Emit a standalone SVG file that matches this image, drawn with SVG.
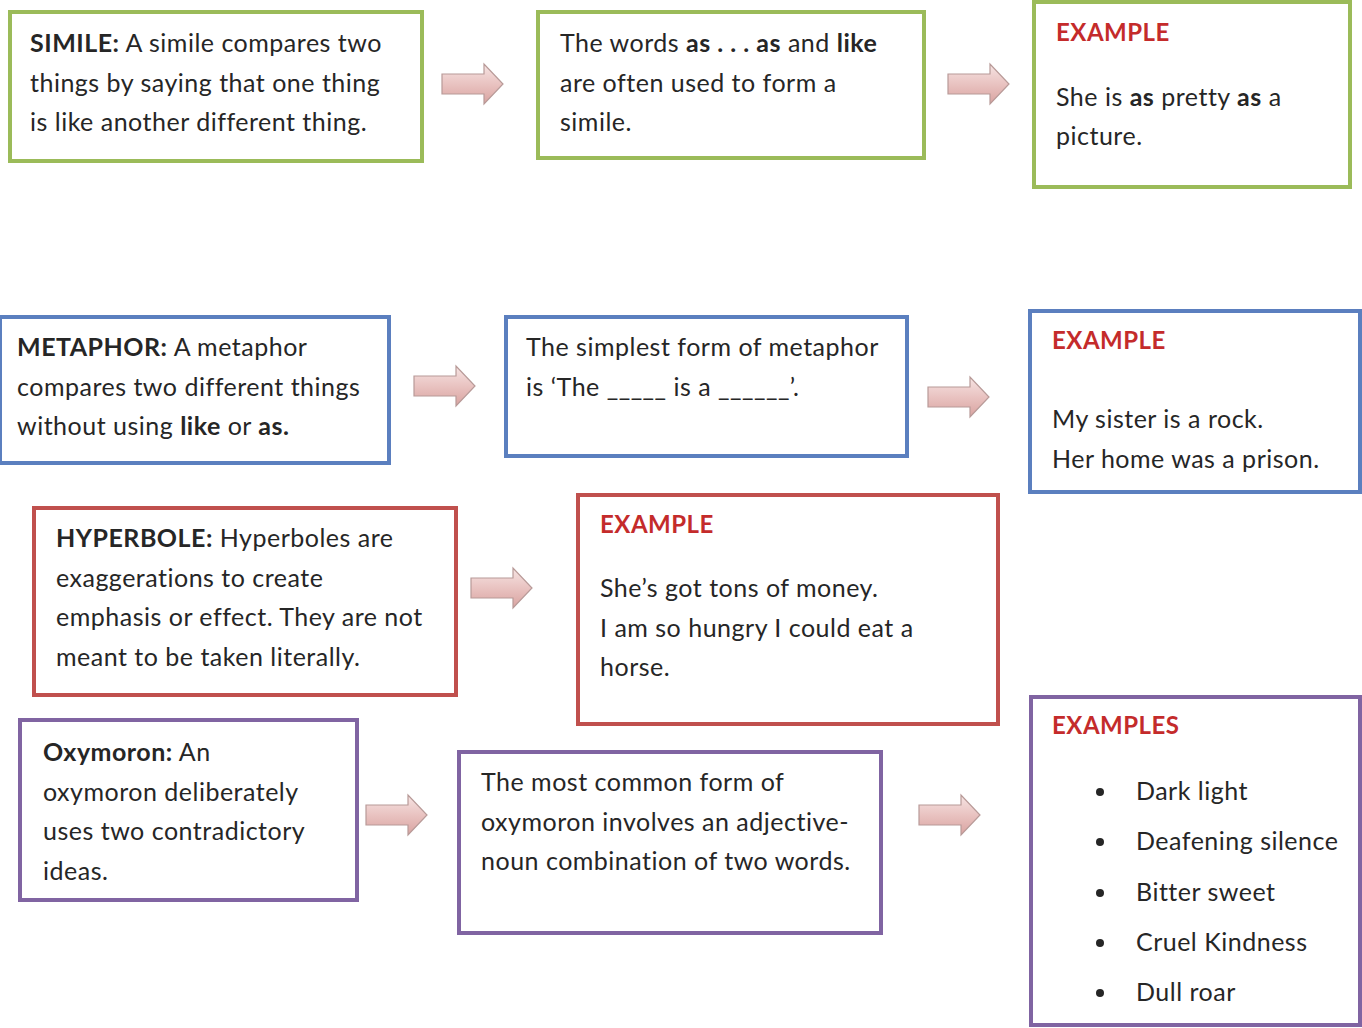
<svg xmlns="http://www.w3.org/2000/svg" width="1362" height="1028" viewBox="0 0 1362 1028">
  <defs>
    <linearGradient id="arrowFill" x1="0" y1="0" x2="0" y2="1">
      <stop offset="0" stop-color="#f6e4e3"/>
      <stop offset="0.5" stop-color="#e9c3c1"/>
      <stop offset="1" stop-color="#d9a3a0"/>
    </linearGradient>
    <!-- block arrow, origin at the left end of the shaft, centred vertically -->
    <path id="blockArrow" d="M0,-10 H42 V-20 L61,0 L42,20 V10 H0 Z"/>
  </defs>
  <style>
    .box { fill: #ffffff; stroke-width: 4; }
    .green { stroke: #9bbb59; }
    .blue { stroke: #5b7fbf; }
    .red { stroke: #c0504d; }
    .purple { stroke: #8064a2; }
    text { font-family: Lato, "Liberation Sans", sans-serif; font-size: 25px; letter-spacing: 0.5px; fill: #262626; }
    .b { font-weight: bold; }
    .ex { fill: #c42b2b; font-weight: bold; font-size: 24px; }
    .arrow { fill: url(#arrowFill); stroke: #b89a98; stroke-width: 1.2; }
  </style>
  <rect width="1362" height="1028" fill="#ffffff"/>

  <!-- Simile row -->
  <g id="simile">
    <rect class="box green" x="10" y="12" width="412" height="149"/>
    <text x="30" y="52"><tspan class="b">SIMILE:</tspan> A simile compares two</text>
    <text x="30" y="92">things by saying that one thing</text>
    <text x="30" y="131">is like another different thing.</text>
  </g>
  <g id="simile-form">
    <rect class="box green" x="538" y="12" width="386" height="146"/>
    <text x="560" y="52">The words <tspan class="b">as . . . as</tspan> and <tspan class="b">like</tspan></text>
    <text x="560" y="92">are often used to form a</text>
    <text x="560" y="131">simile.</text>
  </g>
  <g id="simile-example">
    <rect class="box green" x="1034" y="2" width="316" height="185"/>
    <text class="ex" x="1056" y="41">EXAMPLE</text>
    <text x="1056" y="106">She is <tspan class="b">as</tspan> pretty <tspan class="b">as</tspan> a</text>
    <text x="1056" y="145">picture.</text>
  </g>

  <!-- Metaphor row -->
  <g id="metaphor">
    <rect class="box blue" x="0" y="317" width="389" height="146"/>
    <text x="17" y="356"><tspan class="b">METAPHOR:</tspan> A metaphor</text>
    <text x="17" y="396">compares two different things</text>
    <text x="17" y="435">without using <tspan class="b">like</tspan> or <tspan class="b">as.</tspan></text>
  </g>
  <g id="metaphor-form">
    <rect class="box blue" x="506" y="317" width="401" height="139"/>
    <text x="526" y="356">The simplest form of metaphor</text>
    <text x="526" y="396">is ‘The _____ is a ______’.</text>
  </g>
  <g id="metaphor-example">
    <rect class="box blue" x="1030" y="311" width="330" height="181"/>
    <text class="ex" x="1052" y="349">EXAMPLE</text>
    <text x="1052" y="428">My sister is a rock.</text>
    <text x="1052" y="468">Her home was a prison.</text>
  </g>

  <!-- Hyperbole row -->
  <g id="hyperbole">
    <rect class="box red" x="34" y="508" width="422" height="187"/>
    <text x="56" y="547"><tspan class="b">HYPERBOLE:</tspan> Hyperboles are</text>
    <text x="56" y="587">exaggerations to create</text>
    <text x="56" y="626">emphasis or effect. They are not</text>
    <text x="56" y="666">meant to be taken literally.</text>
  </g>
  <g id="hyperbole-example">
    <rect class="box red" x="578" y="495" width="420" height="229"/>
    <text class="ex" x="600" y="533">EXAMPLE</text>
    <text x="600" y="597">She’s got tons of money.</text>
    <text x="600" y="637">I am so hungry I could eat a</text>
    <text x="600" y="676">horse.</text>
  </g>

  <!-- Oxymoron row -->
  <g id="oxymoron">
    <rect class="box purple" x="20" y="720" width="337" height="180"/>
    <text x="43" y="761"><tspan class="b">Oxymoron:</tspan> An</text>
    <text x="43" y="801">oxymoron deliberately</text>
    <text x="43" y="840">uses two contradictory</text>
    <text x="43" y="880">ideas.</text>
  </g>
  <g id="oxymoron-form">
    <rect class="box purple" x="459" y="752" width="422" height="181"/>
    <text x="481" y="791">The most common form of</text>
    <text x="481" y="831">oxymoron involves an adjective-</text>
    <text x="481" y="870">noun combination of two words.</text>
  </g>
  <g id="oxymoron-examples">
    <rect class="box purple" x="1031" y="697" width="329" height="328"/>
    <text class="ex" x="1052" y="734">EXAMPLES</text>
    <circle cx="1100" cy="792" r="4" fill="#262626"/>
    <text x="1136" y="800">Dark light</text>
    <circle cx="1100" cy="842" r="4" fill="#262626"/>
    <text x="1136" y="850">Deafening silence</text>
    <circle cx="1100" cy="893" r="4" fill="#262626"/>
    <text x="1136" y="901">Bitter sweet</text>
    <circle cx="1100" cy="943" r="4" fill="#262626"/>
    <text x="1136" y="951">Cruel Kindness</text>
    <circle cx="1100" cy="993" r="4" fill="#262626"/>
    <text x="1136" y="1001">Dull roar</text>
  </g>

  <!-- Connectors -->
  <g id="connectors">
    <use class="arrow" href="#blockArrow" x="442" y="84"/>
    <use class="arrow" href="#blockArrow" x="948" y="84"/>
    <use class="arrow" href="#blockArrow" x="414" y="386"/>
    <use class="arrow" href="#blockArrow" x="928" y="397"/>
    <use class="arrow" href="#blockArrow" x="471" y="588"/>
    <use class="arrow" href="#blockArrow" x="366" y="815"/>
    <use class="arrow" href="#blockArrow" x="919" y="815"/>
  </g>
</svg>
